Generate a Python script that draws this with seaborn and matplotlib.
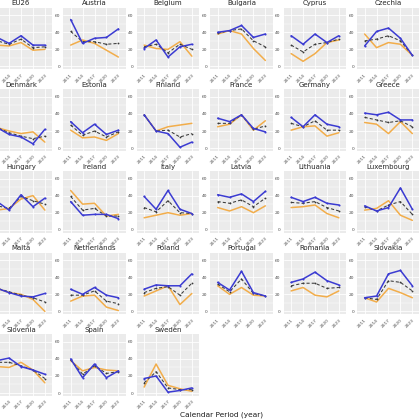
import pandas as pd
import seaborn as sns
import matplotlib.pyplot as plt
from matplotlib.ticker import MultipleLocator

# x categories (calendar periods)
years = ["2011", "2014", "2017", "2020", "2023"]

countries = ["EU26", "Austria", "Belgium", "Bulgaria", "Cyprus", "Czechia",
             "Denmark", "Estonia", "Finland", "France", "Germany", "Greece",
             "Hungary", "Ireland", "Italy", "Latvia", "Lithuania", "Luxembourg",
             "Malta", "Netherlands", "Poland", "Portugal", "Romania", "Slovakia",
             "Slovenia", "Spain", "Sweden"]

# blue series
blue_vals = {
    "EU26": [34, 27, 36, 25, 25], "Austria": [55, 27, 33, 34, 44],
    "Belgium": [21, 31, 11, 23, 26], "Bulgaria": [40, 42, 48, 34, 38],
    "Cyprus": [36, 26, 38, 28, 36], "Czechia": [24, 41, 45, 33, 13],
    "Denmark": [24, 16, 13, 5, 22], "Estonia": [31, 18, 28, 16, 21],
    "Finland": [39, 20, 17, 1, 7], "France": [35, 31, 39, 23, 19],
    "Germany": [36, 25, 39, 28, 25], "Greece": [41, 39, 42, 33, 33],
    "Hungary": [33, 23, 41, 27, 37], "Ireland": [33, 17, 18, 18, 13],
    "Italy": [39, 24, 46, 24, 19], "Latvia": [41, 38, 42, 33, 45],
    "Lithuania": [38, 33, 38, 31, 29], "Luxembourg": [28, 22, 26, 49, 24],
    "Malta": [27, 22, 18, 17, 21], "Netherlands": [26, 20, 28, 19, 16],
    "Poland": [26, 31, 30, 30, 44], "Portugal": [34, 25, 47, 22, 18],
    "Romania": [34, 38, 46, 36, 31], "Slovakia": [16, 18, 44, 48, 30],
    "Slovenia": [38, 41, 31, 27, 22], "Spain": [40, 18, 34, 18, 26],
    "Sweden": [17, 20, 1, 3, 6],
}

# orange series
orange_vals = {
    "EU26": [25, 24, 28, 19, 20], "Austria": [25, 31, 27, 19, 11],
    "Belgium": [25, 21, 20, 29, 12], "Bulgaria": [38, 42, 38, 21, 7],
    "Cyprus": [15, 6, 15, 28, 31], "Czechia": [38, 22, 28, 26, 13],
    "Denmark": [24, 20, 17, 19, 7], "Estonia": [21, 12, 13, 9, 17],
    "Finland": [39, 20, 25, 27, 29], "France": [25, 28, 39, 21, 32],
    "Germany": [21, 25, 26, 14, 18], "Greece": [30, 28, 17, 31, 17],
    "Hungary": [23, 25, 36, 40, 23], "Ireland": [46, 30, 31, 16, 18],
    "Italy": [14, 17, 20, 17, 19], "Latvia": [26, 22, 27, 20, 28],
    "Lithuania": [26, 27, 29, 19, 14], "Luxembourg": [23, 25, 34, 17, 11],
    "Malta": [27, 22, 20, 14, 0], "Netherlands": [12, 18, 19, 5, 1],
    "Poland": [18, 24, 30, 8, 21], "Portugal": [30, 20, 28, 19, 18],
    "Romania": [24, 28, 19, 17, 24], "Slovakia": [16, 11, 27, 22, 16],
    "Slovenia": [31, 30, 36, 27, 12], "Spain": [38, 26, 30, 27, 26],
    "Sweden": [7, 34, 9, 5, 2],
}

# dashed (overall) series
dashed_vals = {
    "EU26": [30, 26, 32, 22, 23], "Austria": [41, 29, 29, 26, 27],
    "Belgium": [23, 26, 16, 26, 20], "Bulgaria": [39, 42, 44, 30, 23],
    "Cyprus": [25, 17, 26, 28, 32], "Czechia": [30, 32, 36, 30, 13],
    "Denmark": [24, 18, 14, 11, 14], "Estonia": [27, 15, 20, 13, 19],
    "Finland": [39, 20, 21, 13, 17], "France": [29, 29, 39, 22, 26],
    "Germany": [29, 25, 32, 21, 21], "Greece": [36, 33, 30, 32, 25],
    "Hungary": [28, 25, 39, 34, 30], "Ireland": [39, 23, 25, 16, 16],
    "Italy": [26, 21, 34, 20, 19], "Latvia": [33, 31, 35, 27, 37],
    "Lithuania": [32, 31, 33, 26, 22], "Luxembourg": [27, 22, 29, 33, 18],
    "Malta": [27, 23, 19, 16, 11], "Netherlands": [19, 19, 24, 12, 9],
    "Poland": [22, 27, 29, 19, 33], "Portugal": [32, 23, 38, 21, 18],
    "Romania": [30, 33, 33, 27, 28], "Slovakia": [16, 14, 36, 34, 24],
    "Slovenia": [36, 36, 32, 27, 17], "Spain": [39, 22, 32, 23, 25],
    "Sweden": [12, 25, 6, 4, 4],
}

series_colors = {"orange": "#f2ad4a", "dashed": "#3a3a3a", "blue": "#3b3bd2"}

rows = []
for c in countries:
    for name, vals in [("orange", orange_vals), ("dashed", dashed_vals), ("blue", blue_vals)]:
        for i, v in enumerate(vals[c]):
            rows.append({"country": c, "period": i, "series": name, "value": v})
df = pd.DataFrame(rows)

sns.set_theme(style="darkgrid", rc={
    "axes.facecolor": "#EBEBEB",
    "grid.color": "white",
    "grid.linewidth": 0.6,
    "figure.facecolor": "white",
})


def draw(data, **kws):
    ax = plt.gca()
    for name in ["orange", "dashed", "blue"]:
        d = data[data["series"] == name]
        if name == "dashed":
            sns.lineplot(data=d, x="period", y="value", ax=ax, color=series_colors[name],
                         linewidth=0.75, linestyle=(0, (3, 2)), marker="o",
                         markersize=1.3, markeredgewidth=0)
        elif name == "blue":
            sns.lineplot(data=d, x="period", y="value", ax=ax, color=series_colors[name],
                         linewidth=1.1, marker="o", markersize=1.5, markeredgewidth=0)
        else:
            sns.lineplot(data=d, x="period", y="value", ax=ax, color=series_colors[name],
                         linewidth=1.1)


g = sns.FacetGrid(df, col="country", col_order=countries, col_wrap=6,
                  sharex=False, sharey=False, height=1, aspect=1)
g.map_dataframe(draw)
g.figure.set_size_inches(4.2, 4.2)
g.figure.subplots_adjust(left=-0.0238, right=0.9988, top=0.982, bottom=0.0571,
                         wspace=0.185, hspace=0.32)
g.set_titles("{col_name}", size=5, pad=1.5)

for k, ax in enumerate(g.axes.flat):
    ax.set_xlim(-0.6, 4.6)
    ax.set_ylim(-3.5, 69)
    ax.set_xticks(range(len(years)))
    ax.set_xticklabels(years, rotation=45, ha="right", rotation_mode="anchor")
    ax.set_yticks([0, 20, 40, 60])
    ax.yaxis.set_minor_locator(MultipleLocator(10))
    ax.grid(which="minor", axis="y", color="white", linewidth=0.3)
    ax.tick_params(axis="both", which="major", labelsize=3.2, labelcolor="#4D4D4D",
                   length=1.5, width=0.4, color="#333333", pad=1)
    ax.tick_params(which="minor", length=0)
    if k % 6 == 0:
        # left column sits against the figure edge, its y labels fall outside
        ax.tick_params(axis="y", labelleft=False)
    ax.set_xlabel("")
    ax.set_ylabel("")
    for s in ax.spines.values():
        s.set_visible(False)

g.figure.text(0.527, 0.004, "Calendar Period (year)", ha="center", va="bottom",
              fontsize=5.3, color="#1a1a1a")

g.figure.savefig("out.png", dpi=100)
